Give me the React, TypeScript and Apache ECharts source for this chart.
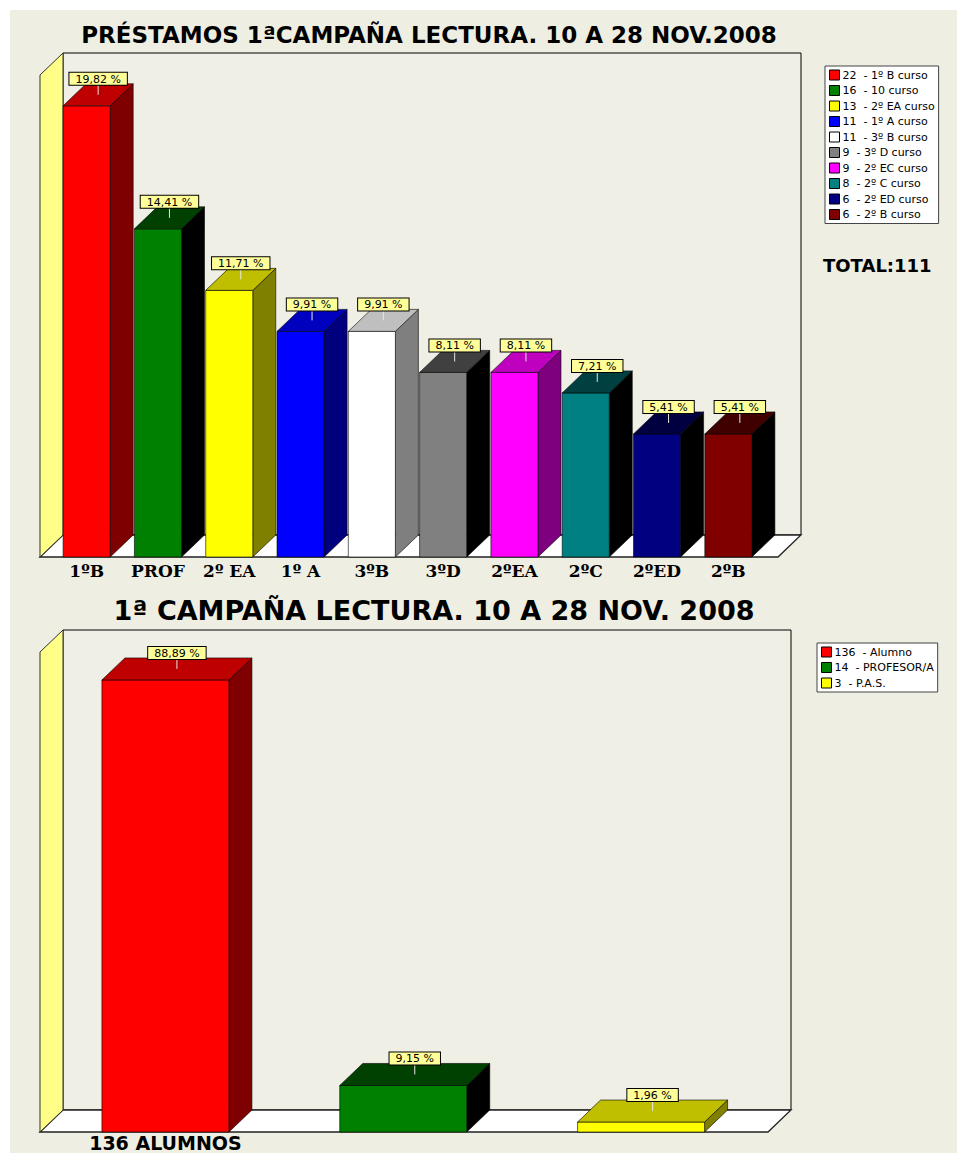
import React, { useEffect, useRef } from "react";
import * as echarts from "echarts";

// ---------- data ----------
const topCategories = ["1ºB", "PROF", "2º EA", "1º A", "3ºB", "3ºD", "2ºEA", "2ºC", "2ºED", "2ºB"];
const topCounts = [22, 16, 13, 11, 11, 9, 9, 8, 6, 6];
const topLegendNames = [
  "1º B curso",
  "10 curso",
  "2º EA curso",
  "1º A curso",
  "3º B curso",
  "3º D curso",
  "2º EC curso",
  "2º C curso",
  "2º ED curso",
  "2º B curso",
];
const topTitle = "PRÉSTAMOS 1ªCAMPAÑA LECTURA. 10 A 28 NOV.2008";

const bottomCategories = ["136 ALUMNOS", "", ""];
const bottomCounts = [136, 14, 3];
const bottomLegendNames = ["Alumno", "PROFESOR/A", "P.A.S."];
const bottomTitle = "1ª CAMPAÑA LECTURA. 10 A 28 NOV. 2008";

// ---------- styles ----------
const topPalette = ["#ff0000", "#008000", "#ffff00", "#0000ff", "#ffffff", "#808080", "#ff00ff", "#008080", "#000080", "#800000"];
const bottomPalette = ["#ff0000", "#008000", "#ffff00"];
const BG = "#eeeee2";
const PANEL = "#f0efe6";
const WALL = "#ffff88";
const DX = 23;
const DY = 22;

function shade(hex: string, amt: number): string {
  const n = parseInt(hex.slice(1), 16);
  const r = Math.max(0, ((n >> 16) & 255) - amt);
  const g = Math.max(0, ((n >> 8) & 255) - amt);
  const b = Math.max(0, (n & 255) - amt);
  return "#" + [r, g, b].map((c) => c.toString(16).padStart(2, "0")).join("");
}

function pct(v: number, total: number): string {
  return ((v / total) * 100).toFixed(2).replace(".", ",") + " %";
}

function makeBarRender(color: string, total: number, ratio: number) {
  const topC = shade(color, 0x40);
  const sideC = shade(color, 0x80);
  return (params: any, api: any) => {
    const ci = api.value(0);
    const v = api.value(1);
    const pT = api.coord([ci, v]);
    const pB = api.coord([ci, 0]);
    const bw = api.size([1, 0])[0] * ratio;
    const x0 = pT[0] - bw / 2;
    const x1 = pT[0] + bw / 2;
    const yT = pT[1];
    const yB = pB[1];
    const lx = pT[0] + DX / 2;
    const edge = { stroke: "#000", lineWidth: 0.6 };
    return {
      type: "group",
      children: [
        {
          type: "polygon",
          shape: { points: [[x1, yT], [x1 + DX, yT - DY], [x1 + DX, yB - DY], [x1, yB]] },
          style: { fill: sideC, ...edge },
        },
        {
          type: "rect",
          shape: { x: x0, y: yT, width: bw, height: yB - yT },
          style: { fill: color, ...edge },
        },
        {
          type: "polygon",
          shape: { points: [[x0, yT], [x1, yT], [x1 + DX, yT - DY], [x0 + DX, yT - DY]] },
          style: { fill: topC, ...edge },
        },
        {
          type: "line",
          shape: { x1: lx, y1: yT - DY / 2, x2: lx, y2: yT - DY + 1 },
          style: { stroke: "#e6e6e6", lineWidth: 1 },
        },
        {
          type: "text",
          x: lx,
          y: yT - DY + 1,
          style: {
            text: pct(v, total),
            fill: "#000",
            fontFamily: "DejaVu Sans",
            fontSize: 11,
            align: "center",
            verticalAlign: "bottom",
            backgroundColor: "#ffff99",
            borderColor: "#000",
            borderWidth: 1,
            padding: [1, 6, 0, 6],
          },
        },
      ],
    };
  };
}

function makeWallRender(padL: number, padR: number) {
  return (params: any) => {
    const cs = params.coordSys;
    const fl = cs.x - padL;
    const fr = cs.x + cs.width + padR;
    const ft = cs.y;
    const fb = cs.y + cs.height;
    return {
      type: "group",
      children: [
        {
          type: "rect",
          shape: { x: fl + DX, y: ft - DY, width: fr - fl, height: fb - ft },
          style: { fill: PANEL, stroke: "#000", lineWidth: 1 },
        },
        {
          type: "polygon",
          shape: { points: [[fl, fb], [fl + DX, fb - DY], [fr + DX, fb - DY], [fr, fb]] },
          style: { fill: "#ffffff", stroke: "#222", lineWidth: 1.3 },
        },
        {
          type: "polygon",
          shape: { points: [[fl, ft], [fl + DX, ft - DY], [fl + DX, fb - DY], [fl, fb]] },
          style: { fill: WALL, stroke: "#333", lineWidth: 1 },
        },
      ],
    };
  };
}

function buildBarSeries(names: string[], counts: number[], palette: string[], axis: number, ratio: number) {
  const total = counts.reduce((a, b) => a + b, 0);
  return names.map((n, i) => ({
    type: "custom",
    name: `${counts[i]}  - ${n}`,
    coordinateSystem: "cartesian2d",
    xAxisIndex: axis,
    yAxisIndex: axis,
    itemStyle: { color: palette[i] },
    data: [[i, counts[i]]],
    encode: { x: 0, y: 1 },
    z: 3,
    silent: true,
    renderItem: makeBarRender(palette[i], total, ratio),
  }));
}

function legendCfg(names: string[], counts: number[], left: number, top: number) {
  return {
    data: names.map((n, i) => `${counts[i]}  - ${n}`),
    orient: "vertical",
    left,
    top,
    backgroundColor: "#ffffff",
    borderColor: "#444",
    borderWidth: 1,
    padding: [3, 4, 3, 4],
    itemWidth: 10,
    itemHeight: 10,
    itemGap: 3.5,
    icon: "rect",
    selectedMode: false,
    itemStyle: { borderColor: "#000", borderWidth: 1 },
    textStyle: { fontFamily: "DejaVu Sans", fontSize: 11, color: "#000", lineHeight: 12, padding: [0, 0, 0, -2] },
  };
}

export default function App() {
  const ref = useRef<HTMLDivElement>(null);
  useEffect(() => {
    document.body.style.margin = "0";
    document.body.style.overflow = "hidden";
    if (!ref.current) return;
    const chart = echarts.init(ref.current, undefined, { renderer: "svg" });
    const topSum = topCounts.reduce((a, b) => a + b, 0);
    const option: any = {
      animation: false,
      backgroundColor: "#ffffff",
      grid: [
        { left: 51, top: 75, width: 713, height: 482 },
        { left: 46.5, top: 652, width: 713.5, height: 480 },
      ],
      xAxis: [
        {
          type: "category",
          gridIndex: 0,
          data: topCategories,
          axisLine: { show: false },
          axisTick: { show: false },
          axisLabel: {
            margin: 5,
            color: "#000",
            fontFamily: "DejaVu Serif",
            fontWeight: "bold",
            fontSize: 17,
            interval: 0,
          },
        },
        {
          type: "category",
          gridIndex: 1,
          data: bottomCategories,
          axisLine: { show: false },
          axisTick: { show: false },
          axisLabel: {
            margin: 1,
            color: "#000",
            fontFamily: "DejaVu Sans",
            fontWeight: "bold",
            fontSize: 19,
            lineHeight: 19,
            interval: 0,
          },
        },
      ],
      yAxis: [
        { type: "value", gridIndex: 0, min: 0, max: 23.5, show: false, splitLine: { show: false } },
        { type: "value", gridIndex: 1, min: 0, max: 144.4, show: false, splitLine: { show: false } },
      ],
      legend: [
        legendCfg(topLegendNames, topCounts, 825, 66),
        legendCfg(bottomLegendNames, bottomCounts, 817, 643),
      ],
      graphic: [
        {
          type: "rect",
          z: -10,
          shape: { x: 10, y: 10, width: 947, height: 1143 },
          style: { fill: BG },
          silent: true,
        },
        {
          type: "text",
          x: 429,
          y: 35,
          style: {
            text: topTitle,
            fill: "#000",
            fontFamily: "DejaVu Sans",
            fontWeight: "bold",
            fontSize: 23,
            align: "center",
            verticalAlign: "middle",
          },
        },
        {
          type: "text",
          x: 434,
          y: 610,
          style: {
            text: bottomTitle,
            fill: "#000",
            fontFamily: "DejaVu Sans",
            fontWeight: "bold",
            fontSize: 27,
            align: "center",
            verticalAlign: "middle",
          },
        },
        {
          type: "text",
          x: 823,
          y: 265,
          style: {
            text: "TOTAL:" + topSum,
            fill: "#000",
            fontFamily: "DejaVu Sans",
            fontWeight: "bold",
            fontSize: 18,
            align: "left",
            verticalAlign: "middle",
          },
        },
      ],
      series: [
        {
          type: "custom",
          coordinateSystem: "cartesian2d",
          xAxisIndex: 0,
          yAxisIndex: 0,
          data: [[0, 0]],
          z: 1,
          silent: true,
          renderItem: makeWallRender(11, 14),
        },
        {
          type: "custom",
          coordinateSystem: "cartesian2d",
          xAxisIndex: 1,
          yAxisIndex: 1,
          data: [[0, 0]],
          z: 1,
          silent: true,
          renderItem: makeWallRender(6.5, 8),
        },
        ...buildBarSeries(topLegendNames, topCounts, topPalette, 0, 0.66),
        ...buildBarSeries(bottomLegendNames, bottomCounts, bottomPalette, 1, 0.534),
      ],
    };
    chart.setOption(option);
    return () => chart.dispose();
  }, []);
  return <div ref={ref} style={{ width: 957, height: 1153 }} />;
}
